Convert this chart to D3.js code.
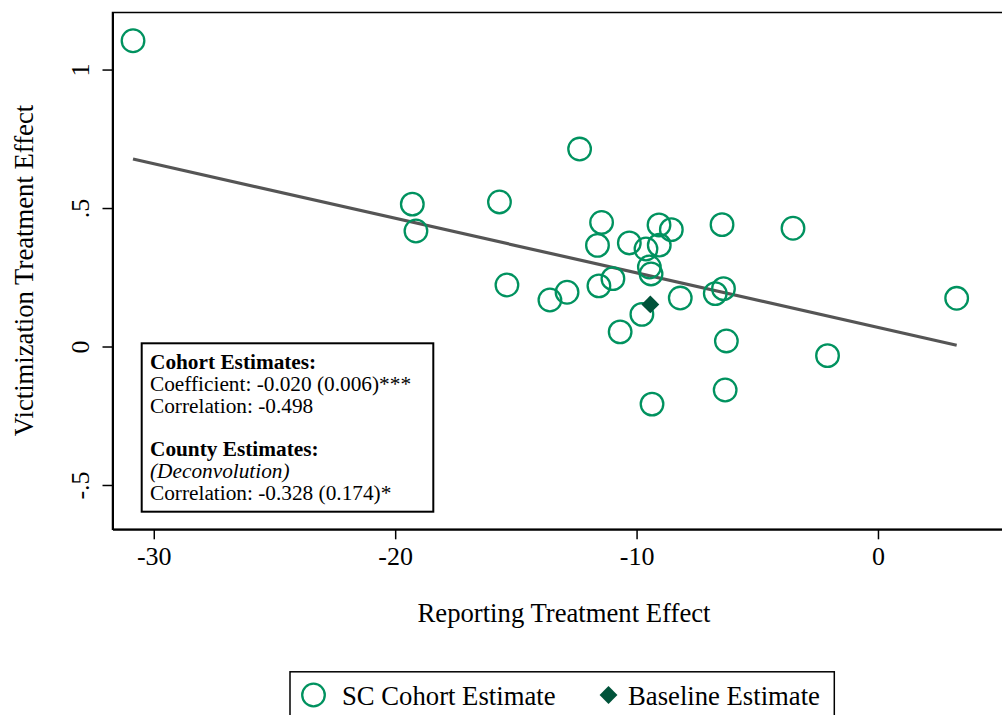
<!DOCTYPE html>
<html>
<head>
<meta charset="utf-8">
<script src="https://cdn.jsdelivr.net/npm/d3@7"></script>
<style>
  body { margin: 0; background: #fff; }
  svg { display: block; font-family: "Liberation Serif", "Times New Roman", serif; }
</style>
</head>
<body>
<div id="chart"></div>
<script>
// cohort estimates (reporting effect, victimization effect)
const cohortX = [-30.86, -12.36, -19.29, -19.14, -15.68, -11.45, -11.62, -10.30, -9.61, -9.07,
                 -8.56, -9.06, -9.47, -9.40, -6.46, -3.52, -15.37, -13.59, -12.88, -11.56,
                 -10.98, -8.19, -6.74, -6.40, -9.78, -10.68, -6.28, -2.09, -6.33, -9.36, 3.26];
const cohortY = [1.104, 0.713, 0.514, 0.417, 0.522, 0.448, 0.365, 0.374, 0.352, 0.439,
                 0.422, 0.366, 0.287, 0.262, 0.440, 0.427, 0.222, 0.168, 0.196, 0.219,
                 0.245, 0.175, 0.191, 0.209, 0.116, 0.053, 0.020, -0.033, -0.157, -0.208, 0.174];
const baselineX = [-9.43];
const baselineY = [0.152];

// linear fit
const fitIntercept = 0.069;
const fitSlope = -0.0197;

const xTicks = [-30, -20, -10, 0];
const xTickLabels = ["-30", "-20", "-10", "0"];
const yTicks = [-0.5, 0, 0.5, 1];
const yTickLabels = ["-.5", "0", ".5", "1"];

const noteLines = [
  { text: "Cohort Estimates:", bold: true },
  { text: "Coefficient: -0.020 (0.006)***" },
  { text: "Correlation: -0.498" },
  { text: "" },
  { text: "County Estimates:", bold: true },
  { text: "(Deconvolution)", italic: true },
  { text: "Correlation: -0.328 (0.174)*" }
];

const legendItems = ["SC Cohort Estimate", "Baseline Estimate"];

const green = "#00925f";
const darkGreen = "#00533a";

const width = 1002, height = 715;
const margin = { top: 12.5, left: 112.5 };
const plotW = 905, plotH = 516.8;

const svg = d3.select("#chart").append("svg")
    .attr("width", width)
    .attr("height", height);

const x = d3.scaleLinear().domain([-31.71, 5.78]).range([0, plotW]);
const y = d3.scaleLinear().domain([-0.66, 1.206]).range([plotH, 0]);

const graph = svg.append("g")
    .attr("transform", `translate(${margin.left},${margin.top})`);

// plot region outline
graph.append("rect")
    .attr("width", plotW)
    .attr("height", plotH)
    .attr("fill", "none")
    .attr("stroke", "#000")
    .attr("stroke-width", 1.5);

// axes
const xAxisG = graph.append("g")
    .attr("transform", `translate(0,${plotH})`)
    .call(d3.axisBottom(x).tickValues(xTicks).tickFormat((d, i) => xTickLabels[i]).tickSize(10).tickSizeOuter(0));
xAxisG.selectAll("text")
    .attr("y", 36).attr("dy", 0)
    .style("font-size", "26px")
    .style("font-family", "Liberation Serif");

const yAxisG = graph.append("g")
    .call(d3.axisLeft(y).tickValues(yTicks).tickFormat((d, i) => yTickLabels[i]).tickSize(10).tickSizeOuter(0));
yAxisG.selectAll("text")
    .attr("x", 0).attr("dy", 0)
    .attr("text-anchor", "middle")
    .attr("transform", "translate(-24,0) rotate(-90)")
    .style("font-size", "26px")
    .style("font-family", "Liberation Serif");

[xAxisG, yAxisG].forEach(g => {
  g.select(".domain").attr("stroke-width", 2);
  g.selectAll(".tick line").attr("stroke-width", 1.5);
  g.selectAll("text").attr("fill", "#000");
});

// fit line
const fitExtent = d3.extent(cohortX);
graph.append("line")
    .attr("x1", x(fitExtent[0]))
    .attr("y1", y(fitIntercept + fitSlope * fitExtent[0]))
    .attr("x2", x(fitExtent[1]))
    .attr("y2", y(fitIntercept + fitSlope * fitExtent[1]))
    .attr("stroke", "#555")
    .attr("stroke-width", 3.2);

// cohort circles
graph.selectAll(".cohort")
    .data(cohortX.map((d, i) => ({ x: d, y: cohortY[i] })))
    .enter()
    .append("circle")
    .attr("class", "cohort")
    .attr("cx", d => x(d.x))
    .attr("cy", d => y(d.y))
    .attr("r", 11.3)
    .attr("fill", "none")
    .attr("stroke", green)
    .attr("stroke-width", 2.3);

// baseline diamond
const diamond = d3.symbol().type(d3.symbolSquare).size(160);
graph.selectAll(".baseline")
    .data(baselineX.map((d, i) => ({ x: d, y: baselineY[i] })))
    .enter()
    .append("path")
    .attr("class", "baseline")
    .attr("d", diamond)
    .attr("transform", d => `translate(${x(d.x)},${y(d.y)}) rotate(45)`)
    .attr("fill", darkGreen);

// annotation box
const note = svg.append("g");
note.append("rect")
    .attr("x", 141.7).attr("y", 343.3)
    .attr("width", 291.6).attr("height", 168.4)
    .attr("fill", "#fff")
    .attr("stroke", "#000")
    .attr("stroke-width", 2);
note.selectAll("text")
    .data(noteLines)
    .enter()
    .append("text")
    .attr("x", 150)
    .attr("y", (d, i) => 369 + i * 21.8)
    .style("font-size", "21.3px")
    .style("font-weight", d => d.bold ? "bold" : "normal")
    .style("font-style", d => d.italic ? "italic" : "normal")
    .text(d => d.text);

// axis titles
svg.append("text")
    .attr("x", 564)
    .attr("y", 621.5)
    .attr("text-anchor", "middle")
    .style("font-size", "26.7px")
    .text("Reporting Treatment Effect");

svg.append("text")
    .attr("transform", "translate(33,270.5) rotate(-90)")
    .attr("text-anchor", "middle")
    .style("font-size", "26.7px")
    .text("Victimization Treatment Effect");

// legend
const legend = svg.append("g");
legend.append("rect")
    .attr("x", 290).attr("y", 671.8)
    .attr("width", 544.3).attr("height", 80)
    .attr("fill", "#fff")
    .attr("stroke", "#000")
    .attr("stroke-width", 1.5);
legend.append("circle")
    .attr("cx", 313.5).attr("cy", 695)
    .attr("r", 11.3)
    .attr("fill", "none")
    .attr("stroke", green)
    .attr("stroke-width", 2.3);
legend.append("path")
    .attr("d", diamond)
    .attr("transform", "translate(608.5,695) rotate(45)")
    .attr("fill", darkGreen);
legend.selectAll(".legend-label")
    .data(legendItems)
    .enter()
    .append("text")
    .attr("class", "legend-label")
    .attr("x", (d, i) => i === 0 ? 342 : 628)
    .attr("y", 704.5)
    .style("font-size", "26.7px")
    .text(d => d);
</script>
</body>
</html>
